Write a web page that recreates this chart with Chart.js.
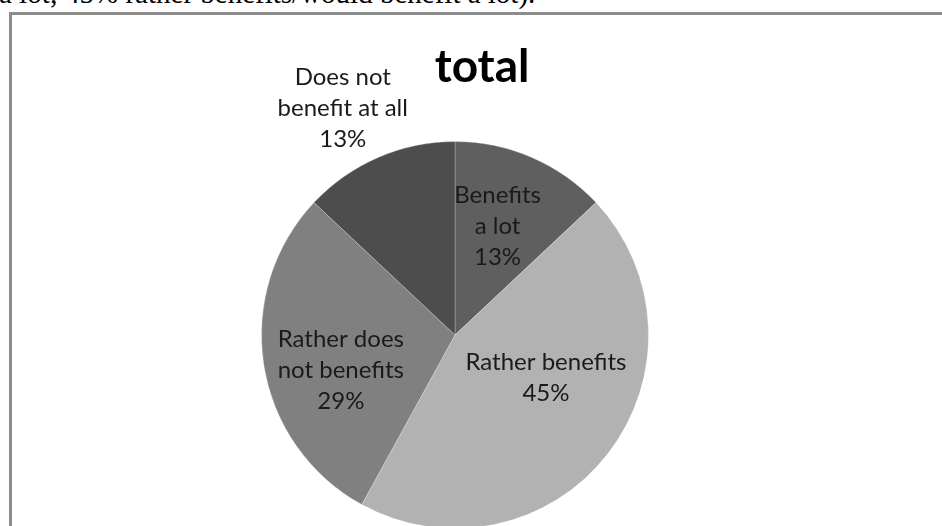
<!DOCTYPE html>
<html lang="en">
<head>
    <meta charset="UTF-8">
    <title>total</title>
    <script src="https://cdn.jsdelivr.net/npm/chart.js"></script>
    <style>
        html, body { margin: 0; padding: 0; background: #fff; overflow: hidden; width: 942px; height: 526px; }
        .intro { position: absolute; left: -1px; top: -22px; line-height: 30px; font-family: "Liberation Serif", "Times New Roman", serif; font-size: 29px; color: #000; white-space: nowrap; }
        .frame { position: absolute; left: 9px; top: 12px; width: 1100px; height: 700px; border: 3px solid #8c8c8c; }
        #wrap { position: absolute; left: 0; top: 0; width: 942px; height: 540px; }
    </style>
</head>
<body>
    <div class="intro">a lot; 45% rather benefits/would benefit a lot).</div>
    <div class="frame"></div>
    <div id="wrap"><canvas id="pieChart" width="942" height="540"></canvas></div>

    <script>
        const categories = ["Benefits a lot", "Rather benefits", "Rather does not benefits", "Does not benefit at all"];
        const shares = [13, 45, 29, 13];
        const labelLines = [
            ["Benefits", "a lot"],
            ["Rather benefits"],
            ["Rather does", "not benefits"],
            ["Does not", "benefit at all"]
        ];
        const sliceColors = ["#5f5f5f", "#b2b2b2", "#808080", "#4d4d4d"];
        // label centre, relative to pie centre, in radius units
        const labelOffsets = [[0.22, -0.56], [0.47, 0.22], [-0.59, 0.18], [-0.58, -1.17]];

        const labelPlugin = {
            id: "sliceLabels",
            afterDraw(chart) {
                const ctx = chart.ctx;
                const arc = chart.getDatasetMeta(0).data[0];
                const cx = arc.x, cy = arc.y, r = arc.outerRadius;
                ctx.save();
                ctx.textAlign = "center";
                ctx.textBaseline = "middle";
                ctx.fillStyle = "#1a1a1a";
                ctx.font = "24px Lato, 'Noto Sans', sans-serif";
                const lineH = 31;
                shares.forEach((v, i) => {
                    const lines = labelLines[i].concat([v + "%"]);
                    const x = cx + labelOffsets[i][0] * r;
                    const y0 = cy + labelOffsets[i][1] * r - (lines.length - 1) * lineH / 2;
                    lines.forEach((t, k) => ctx.fillText(t, x, y0 + k * lineH));
                });
                // chart title
                ctx.fillStyle = "#000";
                ctx.font = "bold 46px Lato, 'Noto Sans', sans-serif";
                ctx.textBaseline = "alphabetic";
                ctx.fillText("total", cx + 0.14 * r, cy - 1.31 * r);
                ctx.restore();
            }
        };

        new Chart(document.getElementById("pieChart"), {
            type: "pie",
            data: {
                labels: categories,
                datasets: [{
                    data: shares,
                    backgroundColor: sliceColors,
                    borderColor: "rgba(255,255,255,0.25)",
                    borderWidth: 1
                }]
            },
            options: {
                responsive: false,
                animation: false,
                layout: { padding: { left: 261, right: 293, top: 141, bottom: 11 } },
                plugins: {
                    legend: { display: false },
                    tooltip: { enabled: false },
                    title: { display: false }
                }
            },
            plugins: [labelPlugin]
        });
    </script>
</body>
</html>
